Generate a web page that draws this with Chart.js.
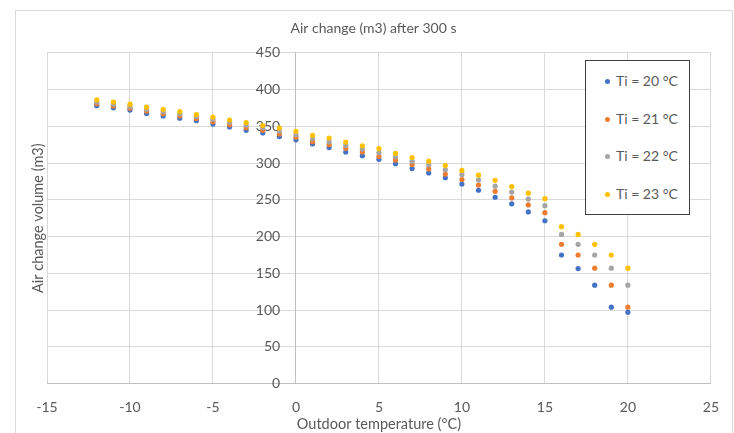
<!DOCTYPE html>
<html>
<head>
<meta charset="utf-8">
<script src="https://cdn.jsdelivr.net/npm/chart.js@4.4.1/dist/chart.umd.min.js"></script>
<style>
    html, body { margin: 0; padding: 0; background: #fff; }
    #wrap { position: relative; width: 734px; height: 433px; overflow: hidden; }
    #frame { position: absolute; left: 15px; top: 10px; width: 718px; height: 460px; border: 1px solid #d9d9d9; box-sizing: border-box; }
    #airChart { position: absolute; left: 0; top: 0; }
    #legend { position: absolute; left: 585px; top: 60px; width: 105px; height: 155px; border: 1px solid #404040; background: #fff; box-sizing: border-box; font-family: Lato, sans-serif; font-size: 14px; color: #595959; }
    #legend .item { position: absolute; left: 19px; height: 18px; line-height: 18px; white-space: nowrap; }
    #legend .dot { display: inline-block; width: 5px; height: 5px; border-radius: 50%; margin-right: 6px; vertical-align: middle; position: relative; top: -1px; }
</style>
</head>
<body>
<div id="wrap">
    <div id="frame"></div>
    <canvas id="airChart" width="734" height="433"></canvas>
    <div id="legend"></div>
</div>
<script>
// outdoor temperature (°C)
const temps = [-12, -11, -10, -9, -8, -7, -6, -5, -4, -3, -2, -1, 0, 1, 2, 3, 4, 5, 6, 7, 8, 9, 10, 11, 12, 13, 14, 15, 16, 17, 18, 19, 20];

// air change volume (m3) for each indoor temperature
const ti20 = [378, 375, 372, 367.5, 364, 361, 357.5, 353, 349, 344.5, 341, 336, 331.5, 326, 321, 315, 310, 305, 299, 292.5, 286.5, 280, 271.5, 263, 253.5, 244.5, 233.5, 221.5, 175, 156.5, 134, 104, 97];
const ti21 = [380.5, 377.5, 374.5, 370.5, 367, 364, 360.5, 356, 352, 348, 344.5, 339.5, 335, 329, 325, 320, 315, 309, 304, 298, 292, 285, 277.5, 270, 261.5, 252.5, 243, 232.5, 189.5, 175, 157, 134, 104];
const ti22 = [383, 380, 377, 373, 370, 367, 363.5, 359.5, 355.5, 351.5, 348, 343.5, 338.5, 333, 329, 324, 319, 314, 308.5, 302.5, 297.5, 291, 284.5, 277, 268.5, 260.5, 251, 242, 203, 189.5, 175, 157, 134];
const ti23 = [386, 383, 380, 376, 373, 370, 366, 362.5, 358.5, 355, 351, 347.5, 343, 337.5, 334, 328.5, 323.5, 319.5, 313, 307.5, 302.5, 296.5, 290, 283.5, 276.5, 268, 259, 251.5, 213.5, 203, 189.5, 175, 157];

const seriesNames = ["Ti = 20 °C", "Ti = 21 °C", "Ti = 22 °C", "Ti = 23 °C"];
const seriesValues = [ti20, ti21, ti22, ti23];
const colors = ["#4472c4", "#ed7d31", "#a5a5a5", "#ffc000"];

const textColor = "#595959";
const gridColor = "#d9d9d9";
const axisColor = "#bfbfbf";
const fontFamily = "Lato, sans-serif";

const datasets = seriesValues.map((vals, i) => ({
    label: seriesNames[i],
    data: vals.map((v, j) => ({ x: temps[j], y: v })),
    backgroundColor: colors[i],
    borderColor: colors[i],
    borderWidth: 0,
    pointRadius: 2.6,
    pointHoverRadius: 2.6,
    order: seriesValues.length - i, // later series on top, like excel
    xAxisID: "x",
    yAxisID: "y",
}));

const ctx = document.getElementById("airChart").getContext("2d");
const chart = new Chart(ctx, {
    type: "scatter",
    data: { datasets },
    options: {
        responsive: false,
        animation: false,
        devicePixelRatio: 1,
        layout: {
            padding: { left: 15, right: 2, top: 0, bottom: 0 },
        },
        scales: {
            x: {
                type: "linear",
                position: "bottom",
                min: -15,
                max: 25,
                ticks: {
                    stepSize: 5,
                    color: textColor,
                    font: { family: fontFamily, size: 14 },
                    padding: 15,
                },
                grid: { color: gridColor, drawTicks: false },
                border: { color: axisColor },
                title: {
                    display: true,
                    text: "Outdoor temperature (°C)",
                    color: textColor,
                    font: { family: fontFamily, size: 14.5 },
                    padding: { top: 0, bottom: 0 },
                },
                afterFit: (s) => { s.height = 49.3; },
            },
            // left scale: only grid lines and the axis title
            yGrid: {
                axis: "y",
                type: "linear",
                position: "left",
                min: 0,
                max: 450,
                ticks: { stepSize: 50, display: false },
                grid: { color: gridColor, drawTicks: false },
                border: { display: false },
                title: {
                    display: true,
                    text: "Air change volume (m3)",
                    color: textColor,
                    font: { family: fontFamily, size: 14.5 },
                    padding: { top: 14.5, bottom: 0 },
                },
                afterFit: (s) => { s.width = 32; },
            },
            // tick labels, just left of the x = 0 crossing
            y: {
                axis: "y",
                type: "linear",
                position: { x: -0.95 },
                min: 0,
                max: 450,
                ticks: {
                    stepSize: 50,
                    color: textColor,
                    font: { family: fontFamily, size: 14 },
                },
                grid: { display: false, drawTicks: false },
                border: { display: false },
                afterFit: (s) => { s.width = 0; },
            },
            // vertical axis line at x = 0
            yLine: {
                axis: "y",
                type: "linear",
                position: { x: 0 },
                min: 0,
                max: 450,
                ticks: { display: false },
                grid: { display: false, drawTicks: false },
                border: { color: axisColor },
                afterFit: (s) => { s.width = 0; },
            },
            yR: {
                axis: "y",
                type: "linear",
                position: "right",
                min: 0,
                max: 450,
                ticks: { display: false },
                grid: { display: false, drawTicks: false },
                border: { display: false },
                afterFit: (s) => { s.width = 17; },
            },
        },
        plugins: {
            title: {
                display: true,
                text: "Air change (m3) after 300 s",
                color: textColor,
                font: { family: fontFamily, size: 14, weight: "normal" },
                padding: { top: 19.6, bottom: 16.3 },
            },
            legend: { display: false },
            tooltip: { enabled: false },
        },
    },
});

// legend box inside the plot, like the excel one
const legendEl = document.getElementById("legend");
const rowTops = [11, 48.7, 86, 124.3];
chart.data.datasets.forEach((ds, i) => {
    const item = document.createElement("div");
    item.className = "item";
    item.style.top = rowTops[i] + "px";
    item.innerHTML = '<span class="dot" style="background:' + ds.backgroundColor + '"></span>' + ds.label;
    legendEl.appendChild(item);
});
</script>
</body>
</html>
